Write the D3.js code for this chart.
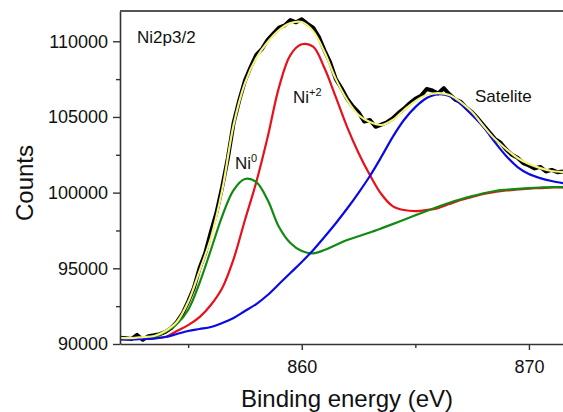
<!DOCTYPE html>
<html>
<head>
<meta charset="utf-8">
<script src="https://cdn.jsdelivr.net/npm/d3@7"></script>
<style>
  body { margin: 0; background: #fff; }
  text { font-family: "Liberation Sans", Arial, sans-serif; }
</style>
</head>
<body>
<div id="chart"></div>
<script>
// fitted curves, sampled every 0.5 eV
const energy = [852, 852.5, 853, 853.5, 854, 854.5, 855, 855.5, 856, 856.5,
  857, 857.5, 858, 858.5, 859, 859.5, 860, 860.5, 861, 861.5,
  862, 862.5, 863, 863.5, 864, 864.5, 865, 865.5, 866, 866.5,
  867, 867.5, 868, 868.5, 869, 869.5, 870, 870.5, 871, 871.5];

const envelope = [90400, 90390, 90460, 90530, 90860, 91450, 92770, 94820, 97000, 100170,
  104470, 107240, 108890, 109950, 110740, 111200, 111270, 110670, 109290, 107500,
  106120, 105130, 104660, 104470, 104800, 105460, 106050, 106450, 106580, 106450,
  105980, 105320, 104400, 103540, 102880, 102290, 101890, 101620, 101430, 101360];

const ni2 = [90330, 90330, 90360, 90400, 90460, 90860, 91250, 91780, 92580, 93700,
  95610, 98190, 100700, 103670, 106970, 109090, 109800, 109650, 108230, 106310,
  104330, 102620, 101160, 99910, 99110, 98850, 98780, 98850, 98980, 99250,
  99510, 99710, 99910, 100040, 100140, 100210, 100270, 100300, 100340, 100340];

const ni0 = [90300, 90330, 90360, 90460, 90790, 91320, 92250, 94030, 96210, 98450,
  100170, 100900, 100700, 99510, 97730, 96670, 96140, 95990, 96210, 96540,
  96870, 97120, 97370, 97640, 97920, 98210, 98500, 98790, 99070, 99330,
  99560, 99770, 99960, 100110, 100190, 100250, 100300, 100340, 100370, 100370];

const satelite = [90300, 90300, 90330, 90360, 90460, 90660, 90860, 90990, 91120, 91390,
  91720, 92180, 92640, 93240, 93960, 94690, 95420, 96200, 97070, 97980,
  98950, 99990, 101100, 102350, 103670, 104800, 105650, 106250, 106510, 106380,
  105850, 105130, 104330, 103340, 102420, 101690, 101230, 100960, 100770, 100630];

// measured spectrum, every 0.25 eV
const rawEnergy = [852, 852.25, 852.5, 852.75, 853, 853.25, 853.5, 853.75, 854, 854.25,
  854.5, 854.75, 855, 855.25, 855.5, 855.75, 856, 856.25, 856.5, 856.75,
  857, 857.25, 857.5, 857.75, 858, 858.25, 858.5, 858.75, 859, 859.25,
  859.5, 859.75, 860, 860.25, 860.5, 860.75, 861, 861.25, 861.5, 861.75,
  862, 862.25, 862.5, 862.75, 863, 863.25, 863.5, 863.75, 864, 864.25,
  864.5, 864.75, 865, 865.25, 865.5, 865.75, 866, 866.25, 866.5, 866.75,
  867, 867.25, 867.5, 867.75, 868, 868.25, 868.5, 868.75, 869, 869.25,
  869.5, 869.75, 870, 870.25, 870.5, 870.75, 871, 871.25, 871.5];

const rawCounts = [90420, 90380, 90330, 90600, 90280, 90520, 90580, 90650, 90800, 91050,
  91450, 92000, 92800, 93700, 95000, 96000, 97400, 98700, 100400, 102300,
  104600, 106100, 107400, 108300, 109100, 109500, 110100, 110500, 110900, 111050,
  111400, 111250, 111450, 111150, 110900, 110300, 109400, 108600, 107500, 106900,
  106200, 105700, 105300, 104700, 104800, 104350, 104500, 104650, 104900, 105250,
  105550, 105900, 106200, 106400, 106850, 106750, 106550, 106900, 106500, 106150,
  106000, 105600, 105300, 104900, 104450, 104000, 103550, 103300, 102850, 102500,
  102300, 101950, 101800, 101600, 101700, 101400, 101500, 101350, 101400];

const xMajor = [860, 870];
const xMinor = [855, 865];
const yMajor = [90000, 95000, 100000, 105000, 110000];
const yMinor = [92500, 97500, 102500, 107500];

const width = 563, height = 412;
const margin = { top: 11, left: 120, bottom: 68, right: 0 };
const bottom = height - margin.bottom;

const svg = d3.select("#chart").append("svg")
  .attr("width", width)
  .attr("height", height);

const x = d3.scaleLinear().domain([852, 871.5]).range([margin.left, width - margin.right]);
const y = d3.scaleLinear().domain([90000, 112000]).range([bottom, margin.top]);

svg.append("clipPath").attr("id", "plot")
  .append("rect")
  .attr("x", margin.left).attr("y", margin.top)
  .attr("width", width - margin.left).attr("height", bottom - margin.top);

const g = svg.append("g").attr("clip-path", "url(#plot)");

const smooth = d3.line()
  .x((d, i) => x(energy[i]))
  .y(d => y(d))
  .curve(d3.curveCatmullRom.alpha(0.5));

const raw = d3.line()
  .x((d, i) => x(rawEnergy[i]))
  .y(d => y(d))
  .curve(d3.curveLinear);

g.append("path").datum(rawCounts)
  .attr("d", raw)
  .attr("fill", "none")
  .attr("stroke", "#000")
  .attr("stroke-width", 4)
  .attr("stroke-linejoin", "round");

const fits = [
  { values: ni2, color: "#e8101a" },
  { values: ni0, color: "#118a11" },
  { values: satelite, color: "#0a0ae6" },
  { values: envelope, color: "#f4f47a" }
];

fits.forEach(f => {
  g.append("path").datum(f.values)
    .attr("d", smooth)
    .attr("fill", "none")
    .attr("stroke", f.color)
    .attr("stroke-width", 2.2);
});

// axes
svg.append("g")
  .attr("transform", `translate(0,${bottom})`)
  .call(d3.axisBottom(x).tickValues(xMajor).tickSize(6).tickSizeOuter(0).tickPadding(10).tickFormat(d3.format("d")));
svg.append("g")
  .attr("transform", `translate(0,${bottom})`)
  .call(d3.axisBottom(x).tickValues(xMinor).tickSize(4).tickSizeOuter(0).tickFormat(""))
  .select(".domain").remove();

svg.append("g")
  .attr("transform", `translate(${margin.left},0)`)
  .call(d3.axisLeft(y).tickValues(yMajor).tickSize(7).tickSizeOuter(0).tickPadding(5).tickFormat(d3.format("d")));
svg.append("g")
  .attr("transform", `translate(${margin.left},0)`)
  .call(d3.axisLeft(y).tickValues(yMinor).tickSize(4).tickSizeOuter(0).tickFormat(""))
  .select(".domain").remove();

svg.selectAll(".domain").attr("stroke", "#333").attr("stroke-width", 1.6);
svg.selectAll(".tick line").attr("stroke", "#333").attr("stroke-width", 1.4);
svg.selectAll(".tick text")
  .attr("fill", "#111")
  .style("font-size", "18px")
  .style("font-family", "'Liberation Sans', Arial, sans-serif");

svg.append("line")
  .attr("x1", margin.left).attr("x2", width)
  .attr("y1", margin.top).attr("y2", margin.top)
  .attr("stroke", "#555").attr("stroke-width", 2.2);

// axis titles
svg.append("text")
  .attr("x", 347).attr("y", 407)
  .attr("text-anchor", "middle")
  .style("font-size", "24px")
  .attr("fill", "#111")
  .text("Binding energy (eV)");

svg.append("text")
  .attr("transform", "translate(33,183) rotate(-90)")
  .attr("text-anchor", "middle")
  .style("font-size", "24px")
  .attr("fill", "#111")
  .text("Counts");

// annotations
svg.append("text")
  .attr("x", 137).attr("y", 43)
  .style("font-size", "17px")
  .attr("fill", "#111")
  .text("Ni2p3/2");

const lab2 = svg.append("text")
  .attr("x", 293).attr("y", 103)
  .style("font-size", "17px")
  .attr("fill", "#111");
lab2.append("tspan").text("Ni");
lab2.append("tspan").attr("dy", -7).style("font-size", "11px").text("+2");

const lab0 = svg.append("text")
  .attr("x", 235).attr("y", 169)
  .style("font-size", "17px")
  .attr("fill", "#111");
lab0.append("tspan").text("Ni");
lab0.append("tspan").attr("dy", -7).style("font-size", "11px").text("0");

svg.append("text")
  .attr("x", 475).attr("y", 102)
  .style("font-size", "17px")
  .attr("fill", "#111")
  .text("Satelite");
</script>
</body>
</html>
